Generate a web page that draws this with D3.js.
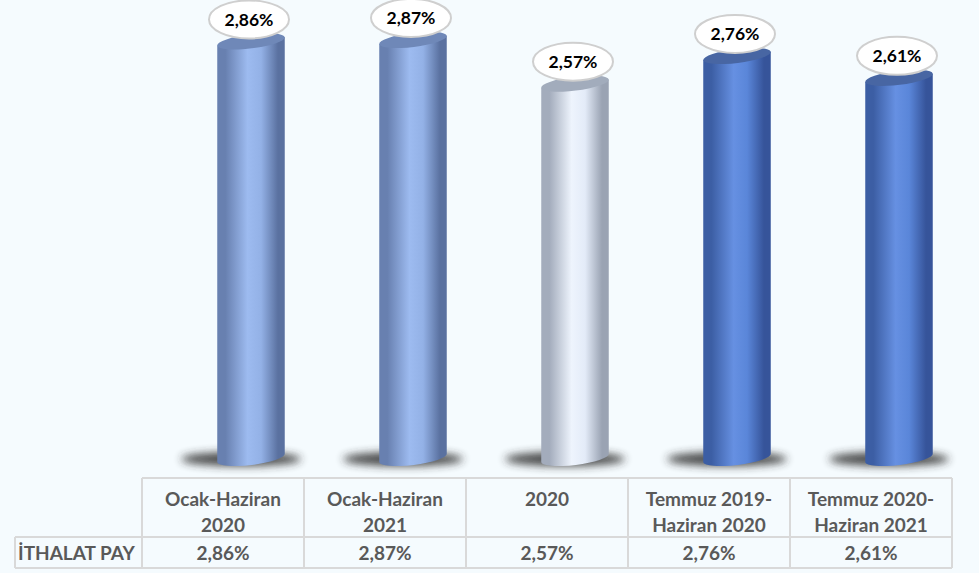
<!DOCTYPE html>
<html>
<head>
<meta charset="utf-8">
<script src="https://cdn.jsdelivr.net/npm/d3@7"></script>
<style>
  body { margin: 0; background: #f5fbfe; }
  svg { display: block; }
</style>
</head>
<body>
<script>
// data
var categories = [
    ["Ocak-Haziran", "2020"],
    ["Ocak-Haziran", "2021"],
    ["2020"],
    ["Temmuz 2019-", "Haziran 2020"],
    ["Temmuz 2020-", "Haziran 2021"]
];
var values = [2.86, 2.87, 2.57, 2.76, 2.61];
var valueLabels = ["2,86%", "2,87%", "2,57%", "2,76%", "2,61%"];
var rowTitle = "İTHALAT PAY";
var themes = ["light", "light", "white", "dark", "dark"];

var palette = {
    light: { edgeL: "#6880b0", hi: "#9dbbf0", mid: "#93b1e6", edgeR: "#5a71a0", top: "#6f88b8" },
    white: { edgeL: "#a3acbc", hi: "#eef4fd", mid: "#e3ebf8", edgeR: "#9aa3b3", top: "#a2acbc" },
    dark:  { edgeL: "#3c5ea4", hi: "#6690e2", mid: "#5a86d9", edgeR: "#36549a", top: "#4866a3" }
};

var W = 979, H = 573;
var svg = d3.select("body").append("svg")
    .attr("width", W)
    .attr("height", H);

var idx = d3.range(values.length);

var x = d3.scaleBand().domain(idx).range([170, 980]);      // cylinders
var xt = d3.scaleBand().domain(idx).range([142, 952]);     // table columns
var y = d3.scaleLinear().domain([0, 3]).range([458, 21]);

var barW = 68, ry = 7, tilt = -7;
var rad = tilt * Math.PI / 180;
var dx = (barW / 2) * Math.cos(rad), dy = (barW / 2) * Math.sin(rad);

var defs = svg.append("defs");
defs.append("filter")
    .attr("id", "blur")
    .attr("x", "-50%").attr("y", "-100%")
    .attr("width", "200%").attr("height", "300%")
    .append("feGaussianBlur").attr("stdDeviation", 4);

Object.keys(palette).forEach(function(k) {
    var p = palette[k];
    var g = defs.append("linearGradient").attr("id", "body_" + k)
        .attr("x1", 0).attr("x2", 1).attr("y1", 0).attr("y2", 0);
    [[0, p.edgeL], [0.12, p.edgeL], [0.45, p.hi], [0.65, p.mid], [0.9, p.edgeR], [1, p.edgeR]]
        .forEach(function(s) {
            g.append("stop").attr("offset", s[0]).attr("stop-color", s[1]);
        });
});

// shadows
svg.append("g").selectAll("ellipse")
    .data(idx)
    .enter()
    .append("ellipse")
    .attr("cx", function(i) { return x(i) + x.bandwidth() / 2 - 10; })
    .attr("cy", y(0) + 1)
    .attr("rx", 60)
    .attr("ry", 7)
    .attr("fill", "#2a2a2a")
    .attr("opacity", 0.85)
    .attr("filter", "url(#blur)");

function bodyPath(i) {
    var cx = x(i) + x.bandwidth() / 2;
    var yt = y(values[i]), yb = y(0);
    return "M" + (cx - dx) + "," + (yt - dy) +
        "L" + (cx - dx) + "," + (yb - dy) +
        "A" + (barW / 2) + "," + ry + " " + tilt + " 0 0 " + (cx + dx) + "," + (yb + dy) +
        "L" + (cx + dx) + "," + (yt + dy) + "Z";
}

var bars = svg.append("g");
bars.selectAll("path.body")
    .data(idx)
    .enter()
    .append("path")
    .attr("class", "body")
    .attr("d", bodyPath)
    .attr("fill", function(i) { return "url(#body_" + themes[i] + ")"; });

bars.selectAll("ellipse.top")
    .data(idx)
    .enter()
    .append("ellipse")
    .attr("class", "top")
    .attr("cx", 0).attr("cy", 0)
    .attr("rx", barW / 2).attr("ry", ry)
    .attr("transform", function(i) {
        return "translate(" + (x(i) + x.bandwidth() / 2) + "," + y(values[i]) + ") rotate(" + tilt + ")";
    })
    .attr("fill", function(i) { return palette[themes[i]].top; });

// value labels
var labels = svg.append("g").selectAll("g")
    .data(idx)
    .enter()
    .append("g")
    .attr("transform", function(i) {
        var ly = Math.max(y(values[i]) - 22, 17);
        return "translate(" + (x(i) + x.bandwidth() / 2 - 2) + "," + ly + ")";
    });
labels.append("ellipse")
    .attr("rx", 40).attr("ry", 19)
    .attr("fill", "#ffffff")
    .attr("stroke", "#cfcfcf")
    .attr("stroke-width", 2);
labels.append("text")
    .attr("text-anchor", "middle")
    .attr("dy", "0.36em")
    .attr("font-family", "Lato, 'Open Sans', sans-serif")
    .attr("font-weight", "bold")
    .attr("font-size", 17.5)
    .attr("fill", "#000")
    .text(function(i) { return valueLabels[i]; });

// data table
var tTop = 478, tMid = 537, tBot = 568, tLeft = 15;
var grid = svg.append("g")
    .attr("stroke", "#d9d9d9")
    .attr("stroke-width", 2)
    .attr("fill", "none");

grid.append("line").attr("x1", xt(0)).attr("x2", xt.range()[1]).attr("y1", tTop).attr("y2", tTop);
grid.append("line").attr("x1", tLeft).attr("x2", xt.range()[1]).attr("y1", tMid).attr("y2", tMid);
grid.append("line").attr("x1", tLeft).attr("x2", xt.range()[1]).attr("y1", tBot).attr("y2", tBot);
grid.append("line").attr("x1", tLeft).attr("x2", tLeft).attr("y1", tMid).attr("y2", tBot);
grid.selectAll("line.v")
    .data(idx.concat([values.length]))
    .enter()
    .append("line")
    .attr("class", "v")
    .attr("x1", function(i) { return i < values.length ? xt(i) : xt.range()[1]; })
    .attr("x2", function(i) { return i < values.length ? xt(i) : xt.range()[1]; })
    .attr("y1", tTop).attr("y2", tBot);

var tfont = "Lato, 'Open Sans', sans-serif";
var table = svg.append("g")
    .attr("font-family", tfont)
    .attr("font-weight", "bold")
    .attr("font-size", 19)
    .attr("fill", "#595959");

var head = table.selectAll("text.head")
    .data(idx)
    .enter()
    .append("text")
    .attr("class", "head")
    .attr("text-anchor", "middle");
head.selectAll("tspan")
    .data(function(i) {
        return categories[i].map(function(t, k) { return { i: i, k: k, t: t }; });
    })
    .enter()
    .append("tspan")
    .attr("x", function(d) { return xt(d.i) + xt.bandwidth() / 2; })
    .attr("y", function(d) { return 506 + d.k * 26; })
    .text(function(d) { return d.t; });

table.selectAll("text.val")
    .data(idx)
    .enter()
    .append("text")
    .attr("class", "val")
    .attr("text-anchor", "middle")
    .attr("x", function(i) { return xt(i) + xt.bandwidth() / 2; })
    .attr("y", 560)
    .text(function(i) { return valueLabels[i]; });

table.append("text")
    .attr("x", tLeft + 3)
    .attr("y", 560)
    .text(rowTitle);
</script>
</body>
</html>
